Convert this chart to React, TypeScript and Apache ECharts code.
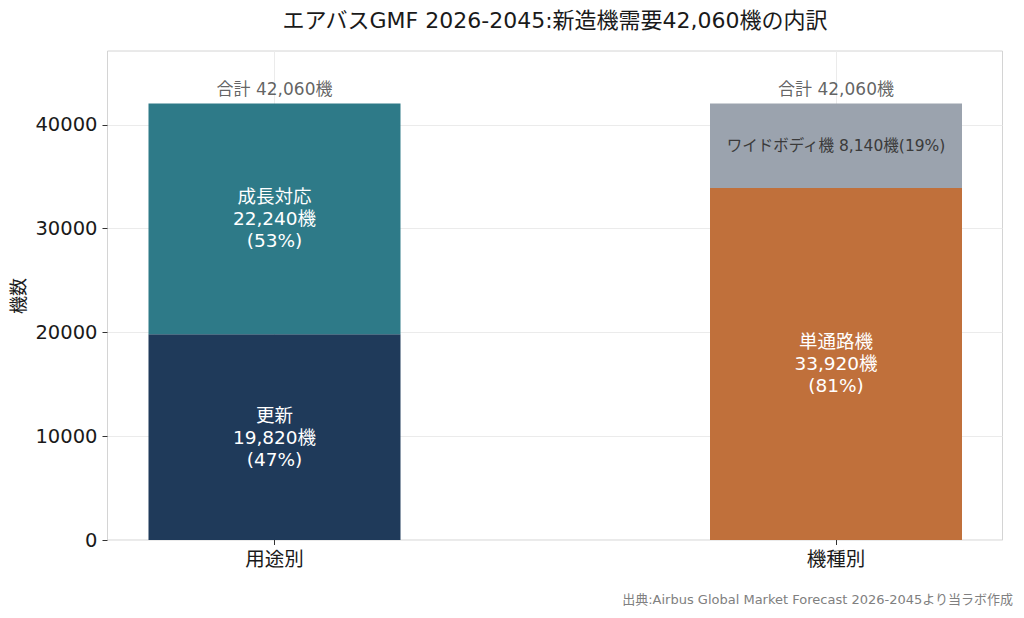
import React, { useEffect, useRef } from "react";
import * as echarts from "echarts";

const categories = ["用途別", "機種別"];
const bottomNames = ["更新", "単通路機"];
const bottomValues = [19820, 33920];
const topNames = ["成長対応", "ワイドボディ機"];
const topValues = [22240, 8140];
const yTicks = [0, 10000, 20000, 30000, 40000];

const bottomColors = ["#1f3a5a", "#c0703b"];
const topColors = ["#2e7a88", "#9ba3ae"];
const FONT = "'DejaVu Sans', 'Noto Sans CJK JP', sans-serif";

const fmt = (v: number) => v.toLocaleString("en-US");

export default function App() {
  const ref = useRef<HTMLDivElement>(null);
  useEffect(() => {
    if (!ref.current) return;
    const chart = echarts.init(ref.current, undefined, { renderer: "svg" });
    const totals = categories.map((_, i) => bottomValues[i] + topValues[i]);
    const yMax = Math.max(...totals) * 1.12;
    const pct = (v: number, i: number) => Math.round((v / totals[i]) * 100);

    const whiteLabel = (text: string) => ({
      show: true,
      position: "inside",
      formatter: text,
      color: "#ffffff",
      fontSize: 18.5,
      lineHeight: 22,
      fontFamily: FONT,
    });

    const bottomData = bottomValues.map((v, i) => ({
      value: v,
      itemStyle: { color: bottomColors[i] },
      label: whiteLabel(`${bottomNames[i]}\n${fmt(v)}機\n(${pct(v, i)}%)`),
    }));
    const topData = topValues.map((v, i) =>
      i === 0
        ? {
            value: v,
            itemStyle: { color: topColors[i] },
            label: whiteLabel(`${topNames[i]}\n${fmt(v)}機\n(${pct(v, i)}%)`),
          }
        : {
            value: v,
            itemStyle: { color: topColors[i] },
            label: {
              show: true,
              position: "inside",
              formatter: `${topNames[i]} ${fmt(v)}機(${pct(v, i)}%)`,
              color: "#3a3a3a",
              fontSize: 15.5,
              fontFamily: FONT,
            },
          }
    );

    const option: any = {
      animation: false,
      textStyle: { fontFamily: FONT },
      grid: [
        {
          left: 107.5,
          right: 21.5,
          top: 51,
          bottom: 78,
          show: true,
          borderColor: "#d4d4d4",
          borderWidth: 1,
          backgroundColor: "transparent",
        },
        { left: 274.5, right: 188, top: 51, bottom: 78 },
      ],
      xAxis: [
        { gridIndex: 0, type: "value", min: 0, max: 1, show: false },
        {
          gridIndex: 1,
          type: "category",
          boundaryGap: false,
          data: categories,
          axisLine: { show: false },
          axisTick: { show: true, length: 5, lineStyle: { color: "#333333" } },
          axisLabel: { margin: 10, fontSize: 19.5, color: "#1a1a1a", fontFamily: FONT },
          splitLine: { show: true, lineStyle: { color: "#ebebeb", width: 1 } },
        },
      ],
      yAxis: [
        {
          gridIndex: 0,
          type: "value",
          min: 0,
          max: yMax,
          interval: 10000,
          axisLine: { show: false },
          axisTick: {
            show: true,
            length: 5,
            customValues: yTicks,
            lineStyle: { color: "#333333" },
          },
          axisLabel: {
            customValues: yTicks,
            formatter: (v: number) => String(v),
            margin: 10,
            fontSize: 19.5,
            color: "#1a1a1a",
            fontFamily: FONT,
          },
          splitLine: { show: true, lineStyle: { color: "#ebebeb", width: 1 } },
        },
        { gridIndex: 1, type: "value", min: 0, max: yMax, show: false },
      ],
      series: [
        {
          type: "bar",
          xAxisIndex: 1,
          yAxisIndex: 1,
          stack: "total",
          barWidth: 252,
          clip: false,
          data: bottomData,
        },
        {
          type: "bar",
          xAxisIndex: 1,
          yAxisIndex: 1,
          stack: "total",
          barWidth: 252,
          clip: false,
          data: topData,
        },
        {
          type: "scatter",
          xAxisIndex: 1,
          yAxisIndex: 1,
          clip: false,
          symbolSize: 1,
          itemStyle: { color: "rgba(0,0,0,0)" },
          data: totals.map((t, i) => ({
            value: [i, t],
            label: {
              show: true,
              position: "top",
              distance: 5,
              formatter: `合計 ${fmt(t)}機`,
              color: "#3a3a3a",
              fontSize: 17,
              fontFamily: FONT,
            },
          })),
        },
      ],
      graphic: [
        {
          type: "text",
          x: 555,
          y: 20,
          style: {
            text: "エアバスGMF 2026-2045:新造機需要42,060機の内訳",
            fontSize: 22,
            fill: "#1a1a1a",
            fontFamily: FONT,
            textAlign: "center",
            textVerticalAlign: "middle",
          },
        },
        {
          type: "text",
          x: 18,
          y: 296,
          rotation: Math.PI / 2,
          style: {
            text: "機数",
            fontSize: 18,
            fill: "#1a1a1a",
            fontFamily: FONT,
            textAlign: "center",
            textVerticalAlign: "middle",
          },
        },
        {
          type: "text",
          x: 1013,
          y: 599,
          style: {
            text: "出典:Airbus Global Market Forecast 2026-2045より当ラボ作成",
            fontSize: 13,
            fill: "#808080",
            fontFamily: FONT,
            textAlign: "right",
            textVerticalAlign: "middle",
          },
        },
      ],
    };
    chart.setOption(option);
    return () => chart.dispose();
  }, []);
  return <div ref={ref} style={{ width: 1024, height: 618, position: "absolute", left: 0, top: 0 }} />;
}
